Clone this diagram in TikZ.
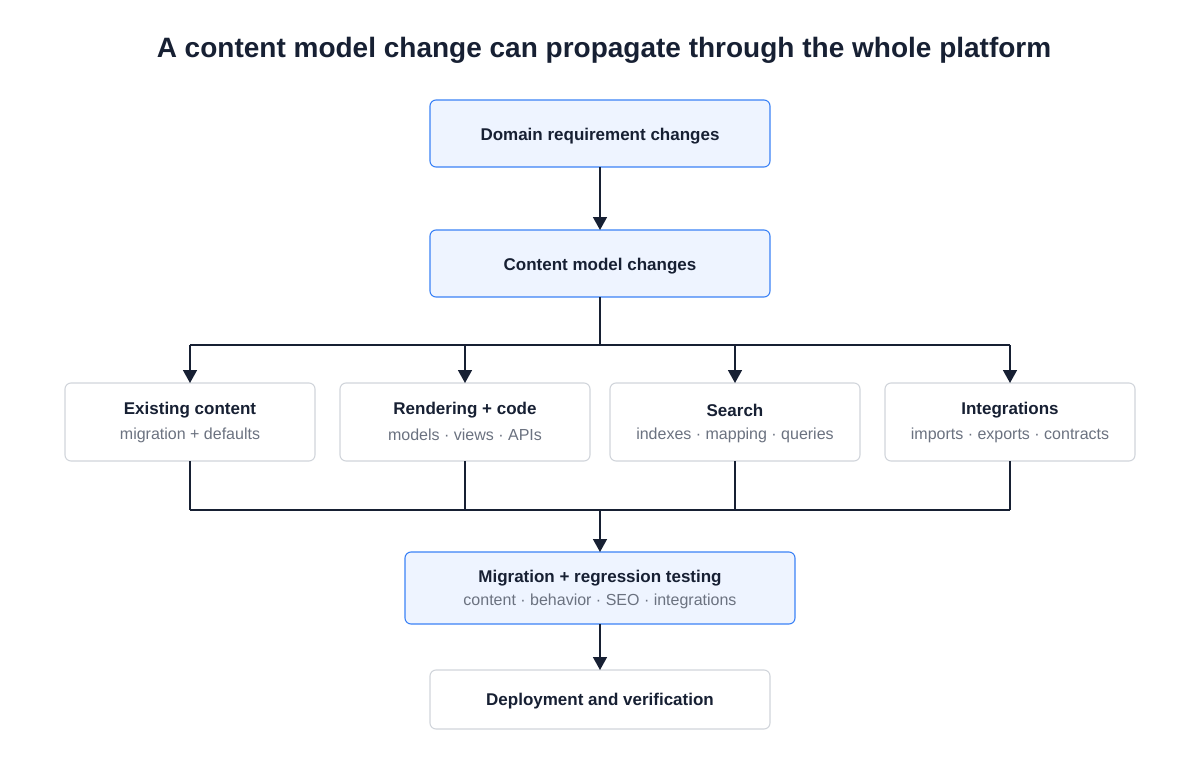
\documentclass[tikz,border=0pt]{standalone}
\usepackage{fontspec}
\setmainfont{Liberation Sans}
\usetikzlibrary{arrows.meta}
\definecolor{ink}{HTML}{172033}
\definecolor{sub}{HTML}{6B7280}
\definecolor{bluefill}{HTML}{EEF4FF}
\definecolor{blueline}{HTML}{3B82F6}
\definecolor{grayline}{HTML}{D1D5DB}
\begin{document}
\begin{tikzpicture}[x=1pt,y=-1pt,
  bluebox/.style={draw=blueline,fill=bluefill,rounded corners=6pt,line width=1.1pt},
  graybox/.style={draw=grayline,fill=white,rounded corners=6pt,line width=1.1pt},
  ttl/.style={font=\bfseries\fontsize{17}{20}\selectfont,text=ink},
  subt/.style={font=\fontsize{16}{19}\selectfont,text=sub},
  conn/.style={draw=ink,line width=1.6pt},
  arr/.style={conn,-{Triangle[length=13pt,width=14pt]}}]
\useasboundingbox (0,0) rectangle (1200,760);
\node[font=\bfseries\fontsize{28}{32}\selectfont,text=ink] (title) at (604,50) {A content model change can propagate through the whole platform};
\path[bluebox] (430,100) rectangle (770,167); \node[ttl] (dom) at (600,136) {Domain requirement changes};
\path[bluebox] (430,230) rectangle (770,297); \node[ttl] (cm) at (600,266) {Content model changes};
\foreach \n/\x/\a/\b in {ex/190/Existing content/migration + defaults, re/465/Rendering + code/models · views · APIs, se/735/Search/indexes · mapping · queries, in/1010/Integrations/imports · exports · contracts}{
  \path[graybox] (\x-125,383) rectangle (\x+125,461);
  \node[ttl] (\n) at (\x,410) {\a};
  \node[subt] (\n s) at (\x,435) {\b};
  \coordinate (\n top) at (\x,383);
  \coordinate (\n bot) at (\x,461);
  \coordinate (\n j) at (\x,345);
  \coordinate (\n k) at (\x,510);
}
\path[bluebox] (405,552) rectangle (795,624);
\node[ttl] (mig) at (600,578) {Migration + regression testing};
\node[subt] (migs) at (600,601) {content · behavior · SEO · integrations};
\path[graybox] (430,670) rectangle (770,729); \node[ttl] (dep) at (600,701) {Deployment and verification};
\coordinate (cmb) at (600,297); \coordinate (split) at (600,345); \coordinate (merge) at (600,510);
\draw[arr] (600,167) -- (600,230);
\draw[conn] (cmb) -- (split);
\draw[conn] (exj) -- (inj);
\foreach \n in {ex,re,se,in}{\draw[arr] (\n j) -- (\n top); \draw[conn] (\n bot) -- (\n k);}
\draw[conn] (exk) -- (ink);
\draw[arr] (merge) -- (600,552);
\draw[arr] (600,624) -- (600,670);
\end{tikzpicture}
\end{document}
